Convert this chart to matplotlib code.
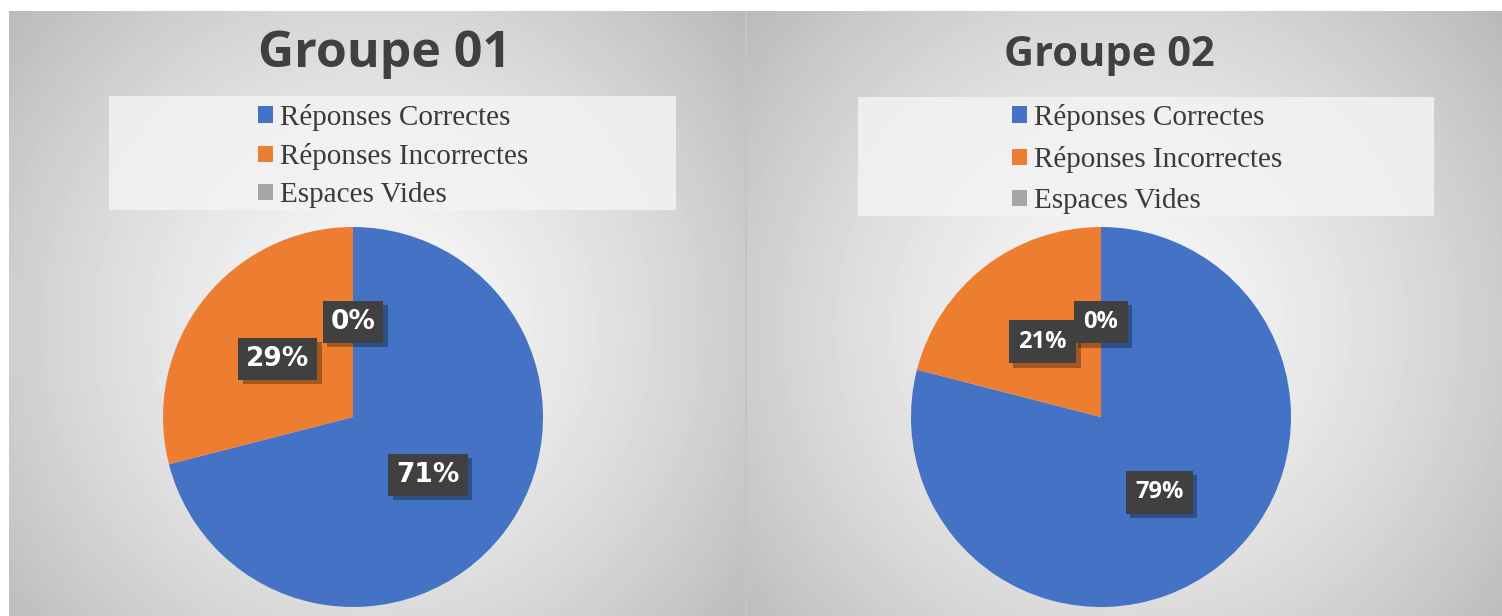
import numpy as np
import matplotlib.pyplot as plt
import matplotlib.patheffects as pe
from matplotlib.patches import Rectangle

# Données
categories = ["Réponses Correctes", "Réponses Incorrectes", "Espaces Vides"]
groupe_01 = [71, 29, 0]
groupe_02 = [79, 21, 0]
titres = ["Groupe 01", "Groupe 02"]
couleurs = ["#4472C4", "#ED7D31", "#A5A5A5"]

W, H = 1502, 616
fig = plt.figure(figsize=(W / 100, H / 100), dpi=100, facecolor="white")


def px_axes(x0, y0, x1, y1, z=0):
    # axes placé en pixels (origine en haut à gauche)
    ax = fig.add_axes([x0 / W, 1 - y1 / H, (x1 - x0) / W, (y1 - y0) / H], zorder=z)
    return ax


def fond(x0, y0, x1, y1, cx, cy):
    ax = px_axes(x0, y0, x1, y1, z=0)
    xs = np.arange(x0, x1)
    ys = np.arange(y0, y1)
    xx, yy = np.meshgrid(xs, ys)
    d = np.sqrt(((xx - cx) / ((x1 - x0) * 0.6)) ** 2 + ((yy - cy) / ((y1 - y0) * 0.75)) ** 2)
    v = 0.975 - 0.22 * np.clip(d, 0, 1.3) ** 1.4
    ax.imshow(v, cmap="gray", vmin=0, vmax=1, aspect="auto",
              extent=(x0, x1, y1, y0), interpolation="bilinear")
    ax.axis("off")
    return ax


# panneaux
panneaux = [
    dict(box=(9, 11, 745, 616), centre=(353, 417), r=190, titre_xy=(385, 54), titre_fs=36,
         leg_box=(109, 96, 676, 210), leg_xy=(258, 104), lab_font="DejaVu Sans", lab_fs=19,
         lab_pad=0.3, spacing=0.42, valeurs=groupe_01),
    dict(box=(747, 11, 1502, 616), centre=(1101, 417), r=190, titre_xy=(1109, 55), titre_fs=30,
         leg_box=(858, 97, 1434, 216), leg_xy=(1012, 104), lab_font="Open Sans", lab_fs=17,
         lab_pad=0.4, spacing=0.52, valeurs=groupe_02),
]

for p, titre in zip(panneaux, titres):
    x0, y0, x1, y1 = p["box"]
    cx, cy = p["centre"]
    fond(x0, y0, x1, y1, cx + 20, cy - 90)

    # cadre clair de la légende
    lx0, ly0, lx1, ly1 = p["leg_box"]
    fig.patches.append(Rectangle((lx0 / W, 1 - ly1 / H), (lx1 - lx0) / W, (ly1 - ly0) / H,
                                 transform=fig.transFigure, facecolor="#f3f3f3",
                                 edgecolor="none", alpha=0.85, zorder=1))

    r = p["r"]
    ax = px_axes(cx - r, cy - r, cx + r, cy + r, z=2)
    wedges, texts, autotexts = ax.pie(p["valeurs"], colors=couleurs, startangle=90,
                                      counterclock=False, autopct="%1.0f%%",
                                      pctdistance=0.5, radius=1)
    ax.set_xlim(-1, 1)
    ax.set_ylim(-1, 1)
    for t in autotexts:
        t.set_fontfamily(p["lab_font"])
        t.set_fontsize(p["lab_fs"])
        t.set_fontweight("bold")
        t.set_color("white")
        t.set_bbox(dict(boxstyle="square,pad=%s" % p["lab_pad"], facecolor="#404040",
                        edgecolor="none"))
        t.get_bbox_patch().set_path_effects([
            pe.SimplePatchShadow(offset=(3, -3), shadow_rgbFace="black", alpha=0.3),
            pe.Normal()])

    tx, ty = p["titre_xy"]
    fig.text(tx / W, 1 - ty / H, titre, fontsize=p["titre_fs"], fontweight="bold",
             family="Open Sans", color="#404040", ha="center", va="center", zorder=3)

    lx, ly = p["leg_xy"]
    ax.legend(wedges, categories, loc="upper left",
              bbox_to_anchor=(lx / W, 1 - ly / H), bbox_transform=fig.transFigure,
              frameon=False, prop=dict(family="Liberation Serif", size=21),
              handlelength=0.5, handleheight=0.5, handletextpad=0.25,
              labelspacing=p["spacing"], borderpad=0, borderaxespad=0, labelcolor="#3a3a3a")

# séparation entre les deux panneaux
fig.patches.append(Rectangle((745 / W, 0), 2 / W, 1 - 11 / H, transform=fig.transFigure,
                             facecolor="#c4c4c4", edgecolor="none", zorder=1))

fig.savefig("out.png", dpi=100, facecolor="white")
